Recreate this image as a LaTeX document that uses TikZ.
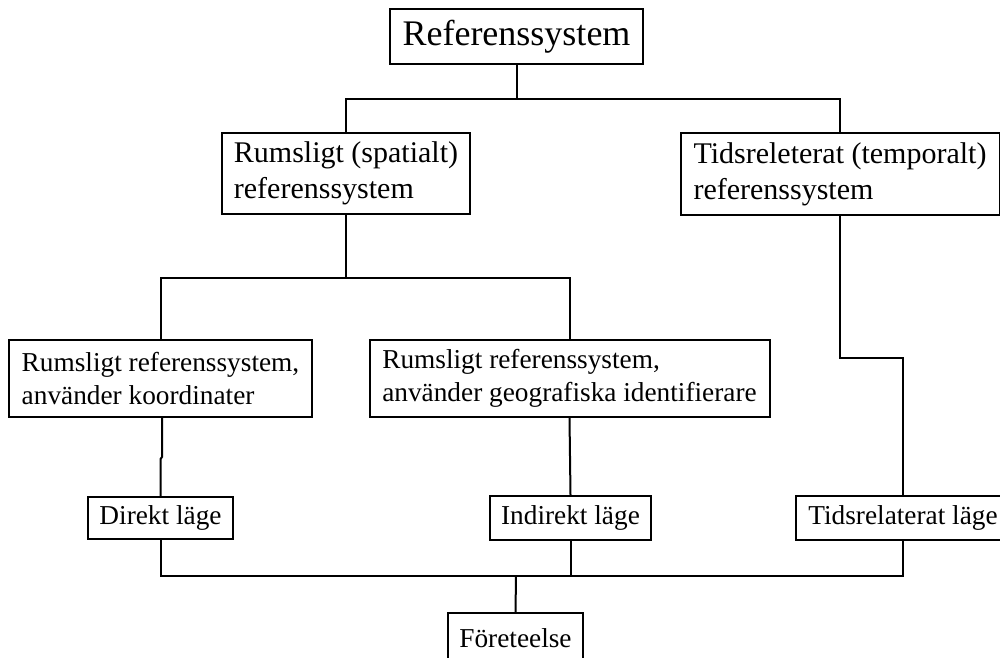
\documentclass[tikz,border=0pt]{standalone}
\usepackage{fontspec}
\setmainfont{Liberation Serif}
\begin{document}
\begin{tikzpicture}[x=1pt,y=-1pt,
  box/.style={draw, line width=2pt, align=left, inner sep=0pt},
  big/.style={font=\fontsize{36}{43}\selectfont},
  mid/.style={font=\fontsize{30}{36}\selectfont},
  small/.style={font=\fontsize{27.3}{33}\selectfont},
  conn/.style={line width=2pt}]
\useasboundingbox (0,0) rectangle (1000,657);
\clip (0,0) rectangle (1000,657);
\node[box, big, minimum width=253pt, minimum height=55pt] (ref) at (516.5,36.5) {Referenssystem};
\node[box, mid, minimum width=248pt, minimum height=81pt] (spat) at (346,173.5) {Rumsligt (spatialt)\\referenssystem};
\node[box, mid, minimum width=319pt, minimum height=82pt] (temp) at (840,174) {Tidsreleterat (temporalt)\\referenssystem};
\node[box, small, minimum width=303pt, minimum height=77pt] (koord) at (160.5,378.5) {Rumsligt referenssystem,\\använder koordinater};
\node[box, small, minimum width=400pt, minimum height=77pt] (geo) at (569.5,378.5) {Rumsligt referenssystem,\\använder geografiska identifierare};
\node[box, small, minimum width=145pt, minimum height=42pt] (direkt) at (160.5,518) {Direkt läge};
\node[box, small, minimum width=161pt, minimum height=44pt] (indirekt) at (570.5,518) {Indirekt läge};
\node[box, small, minimum width=214pt, minimum height=44pt] (tlage) at (903,518) {Tidsrelaterat läge};
\node[box, small, minimum width=135pt, minimum height=50pt] (foret) at (515.5,638) {Företeelse};
\coordinate (b) at (516,576);
\draw[conn] (ref.south) -- ++(0,34) coordinate (t1);
\draw[conn] (spat.north) |- (t1) -| (temp.north);
\draw[conn] (spat.south) -- ++(0,63) coordinate (t2);
\draw[conn] (koord.north) |- (t2) -| (geo.north);
\draw[conn] ([xshift=1.5pt]koord.south) -- ++(0,39) -- ([yshift=37pt]direkt.north) -- (direkt.north);
\draw[conn] (geo.south) -- (indirekt.north);
\draw[conn] (temp.south) -- ++(0,142) -| (tlage.north);
\draw[conn] (direkt.south) |- (b) -| (tlage.south);
\draw[conn] (indirekt.south) -- (indirekt.south |- b);
\draw[conn] (b) -- (foret.north);
\end{tikzpicture}
\end{document}
